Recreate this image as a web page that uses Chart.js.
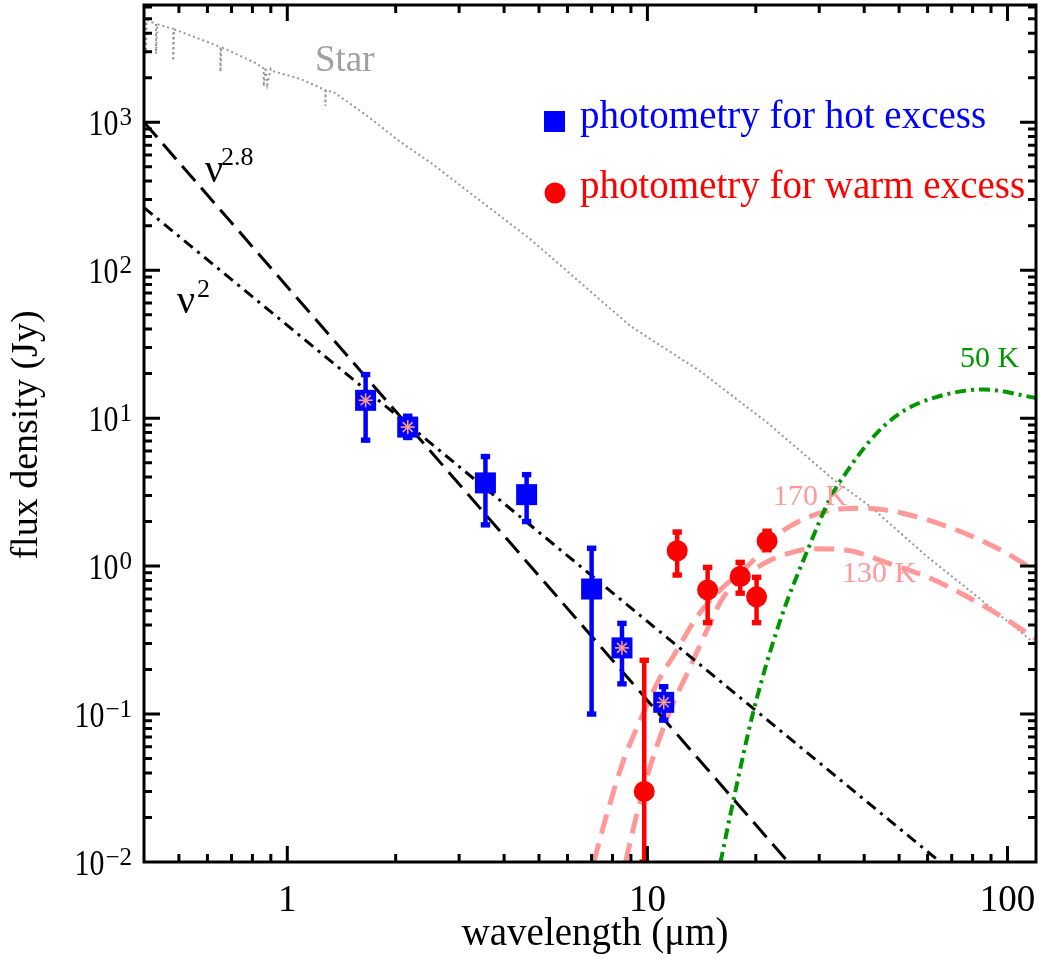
<!DOCTYPE html>
<html>
<head>
<meta charset="utf-8">
<script src="https://cdn.jsdelivr.net/npm/chart.js@4.4.1/dist/chart.umd.min.js"></script>
<style>
html,body{margin:0;padding:0;background:#fff;}
#wrap{width:1040px;height:962px;}
</style>
</head>
<body>
<div id="wrap"><canvas id="c" width="1040" height="962"></canvas></div>
<script>
// ---- data ----
const hotWl  = [1.65, 2.16, 3.55, 4.62, 7.0, 8.5, 11.1];
const hotF   = [13.2, 8.7, 3.65, 3.04, 0.70, 0.28, 0.12];
const hotHi  = [19.7, 10.3, 5.5, 4.15, 1.32, 0.41, 0.153];
const hotLo  = [7.1, 7.4, 1.9, 2.0, 0.10, 0.16, 0.091];
const hotAst = [true, true, false, false, false, true, true];

const warmWl = [9.8, 12.1, 14.7, 18.1, 20.1, 21.5];
const warmF  = [0.030, 1.27, 0.69, 0.85, 0.62, 1.48];
const warmHi = [0.231, 1.70, 0.98, 1.06, 0.84, 1.72];
const warmLo = [0.01, 0.87, 0.415, 0.656, 0.415, 1.29];

const starWl = [0.400,0.405,0.405,0.407,0.432,0.432,0.435,0.482,0.482,0.485,0.652,0.652,0.656,0.82,0.86,0.86,0.87,0.88,0.90,0.92,1.087,1.275,1.275,1.28,1.342,1.668,2.06,2.496,4.73,8.97,14.0,21.5,32.9,41.6,59.8,82.4,120.4];
const starF  = [5000,4920,2900,4900,4625,2900,4600,4275,2600,4250,3230,2190,3220,2500,2300,1750,2350,1800,2300,2200,1964,1650,1290,1640,1603,1103,736,535,162,41.9,20.8,9.34,3.84,2.53,1.16,0.622,0.293];

const nu28Wl = [0.4, 24.6];
const nu28F  = [1000, 0.01];
const nu2Wl  = [0.4, 65];
const nu2F   = [265, 0.01];

const bb170Wl = [7.09,7.73,8.59,9.56,10.64,12.09,13.74,15.95,18.92,23.41,28.37,34.37,39.9,50.45,69.45,95.6,120.9];
const bb170F  = [0.0099,0.0213,0.0488,0.0911,0.161,0.271,0.456,0.691,0.994,1.681,2.167,2.432,2.462,2.296,1.817,1.289,0.915];
const bb130Wl = [8.69,9.36,10.31,11.58,13.16,14.65,16.29,18.13,21.5,24.96,28.96,35.87,46.33,62.42,99.8,120.9];
const bb130F  = [0.0099,0.0213,0.0488,0.1065,0.209,0.3705,0.622,0.808,1.069,1.23,1.31,1.279,1.053,0.808,0.433,0.317];
const bb50Wl  = [15.95,17.36,19.74,23.41,27.77,32.24,35.87,42.53,50.45,62.42,85.96,119.6];
const bb50F   = [0.0099,0.02657,0.1065,0.433,1.26,2.90,4.38,7.54,10.86,13.72,15.62,13.72];

const xTickVals   = [1, 10, 100];
const xTickLabels = ['1', '10', '100'];
const yTickExps   = [-2, -1, 0, 1, 2, 3];
const yTickLabels = ['\u22122', '\u22121', '0', '1', '2', '3'];

const BLUE = 'rgb(0,0,255)', RED = 'rgb(255,0,0)', PINK = 'rgb(255,153,153)',
      GREEN = 'rgb(0,150,0)', GRAY = 'rgb(150,150,150)';
const FONT = '"Liberation Serif", "Times New Roman", serif';

function pts(xs, ys){ return xs.map((x,i)=>({x:x, y:ys[i]})); }

function txt(ctx, s, x, y, size, color, align, hs){
  hs = hs || 1;
  ctx.save();
  ctx.font = size + 'px ' + FONT;
  ctx.fillStyle = color;
  ctx.textBaseline = 'alphabetic';
  ctx.textAlign = 'left';
  const w = ctx.measureText(s).width * hs;
  const x0 = align === 'right' ? x - w : (align === 'center' ? x - w/2 : x);
  ctx.translate(x0, y);
  ctx.scale(hs, 1);
  ctx.fillText(s, 0, 0);
  ctx.restore();
  return w;
}

function drawErr(chart, wl, lo, hi, color){
  const ctx = chart.ctx, xs = chart.scales.x, ys = chart.scales.y, a = chart.chartArea;
  ctx.save();
  ctx.beginPath();
  ctx.rect(a.left, a.top, a.right - a.left, a.bottom - a.top);
  ctx.clip();
  ctx.strokeStyle = color; ctx.fillStyle = color; ctx.lineWidth = 4.5;
  wl.forEach((w,i)=>{
    const px = xs.getPixelForValue(w);
    const y1 = ys.getPixelForValue(hi[i]);
    const y2 = ys.getPixelForValue(lo[i]);
    ctx.beginPath(); ctx.moveTo(px, y1); ctx.lineTo(px, y2); ctx.stroke();
    ctx.fillRect(px - 4.7, y1 - 2.7, 9.4, 5.4);
    ctx.fillRect(px - 4.7, y2 - 2.7, 9.4, 5.4);
  });
  ctx.restore();
}

const idlPlugin = {
  id: 'idl',
  beforeDatasetDraw(chart, args){
    if (args.index === 0) drawErr(chart, hotWl, hotLo, hotHi, BLUE);
    if (args.index === 1) drawErr(chart, warmWl, warmLo, warmHi, RED);
  },
  afterDatasetsDraw(chart){
    const ctx = chart.ctx, xs = chart.scales.x, ys = chart.scales.y, a = chart.chartArea;
    // asterisks on the hot points
    ctx.save();
    ctx.strokeStyle = 'rgb(250,160,140)'; ctx.lineWidth = 1.6;
    hotWl.forEach((w,i)=>{
      if (!hotAst[i]) return;
      const px = xs.getPixelForValue(w), py = ys.getPixelForValue(hotF[i]);
      const r = 7;
      for (let k=0;k<4;k++){
        const ang = k*Math.PI/4;
        ctx.beginPath();
        ctx.moveTo(px - r*Math.cos(ang), py - r*Math.sin(ang));
        ctx.lineTo(px + r*Math.cos(ang), py + r*Math.sin(ang));
        ctx.stroke();
      }
    });
    ctx.restore();

    // frame
    ctx.save();
    ctx.strokeStyle = '#000'; ctx.lineWidth = 3;
    ctx.strokeRect(a.left, a.top, a.right - a.left, a.bottom - a.top);
    // x ticks
    const xmin = xs.min, xmax = xs.max;
    for (let d = -1; d <= 2; d++){
      for (let m = 1; m <= 9; m++){
        const v = m * Math.pow(10, d);
        if (v <= xmin * 1.001 || v >= xmax) continue;
        const px = xs.getPixelForValue(v);
        const len = (m === 1) ? 16 : 8;
        ctx.beginPath();
        ctx.moveTo(px, a.bottom); ctx.lineTo(px, a.bottom - len);
        ctx.moveTo(px, a.top); ctx.lineTo(px, a.top + len);
        ctx.stroke();
      }
    }
    // y ticks
    const ymin = ys.min, ymax = ys.max;
    for (let d = -2; d <= 3; d++){
      for (let m = 1; m <= 9; m++){
        const v = m * Math.pow(10, d);
        if (v <= ymin * 1.001 || v >= ymax) continue;
        const py = ys.getPixelForValue(v);
        const len = (m === 1) ? 16 : 8;
        ctx.beginPath();
        ctx.moveTo(a.left, py); ctx.lineTo(a.left + len, py);
        ctx.moveTo(a.right, py); ctx.lineTo(a.right - len, py);
        ctx.stroke();
      }
    }
    ctx.restore();

    // x tick labels
    xTickVals.forEach((v,i)=>{
      txt(ctx, xTickLabels[i], xs.getPixelForValue(v), 911, 37, '#000', 'center');
    });
    // y tick labels 10^n
    yTickExps.forEach((e,i)=>{
      const py = ys.getPixelForValue(Math.pow(10, e));
      const we = txt(ctx, yTickLabels[i], 132, py + 3, 25, '#000', 'right');
      txt(ctx, '10', 132 - we - 1, py + 12.5, 36, '#000', 'right', 0.83);
    });

    // axis titles
    txt(ctx, 'wavelength (\u03bcm)', 595, 945, 39, '#000', 'center');
    ctx.save();
    ctx.translate(37, 435);
    ctx.rotate(-Math.PI/2);
    txt(ctx, 'flux density (Jy)', 0, 0, 38, '#000', 'center');
    ctx.restore();

    // curve labels
    txt(ctx, 'Star', 315, 71, 37, 'rgb(160,160,160)', 'left');
    txt(ctx, '\u03bd', 205, 182, 40, '#000', 'left');
    txt(ctx, '2.8', 221, 165, 26, '#000', 'left');
    txt(ctx, '\u03bd', 177, 313, 40, '#000', 'left');
    txt(ctx, '2', 197, 297, 26, '#000', 'left');
    txt(ctx, '50 K', 960, 367, 30, GREEN, 'left');
    txt(ctx, '170 K', 773, 505, 30, PINK, 'left');
    txt(ctx, '130 K', 842, 582, 30, PINK, 'left');

    // legend
    ctx.save();
    ctx.fillStyle = BLUE;
    ctx.fillRect(544, 111, 21, 21);
    ctx.fillStyle = RED;
    ctx.beginPath(); ctx.arc(555, 193, 10.5, 0, Math.PI*2); ctx.fill();
    ctx.restore();
    txt(ctx, 'photometry for hot excess', 580, 128, 39, BLUE, 'left');
    txt(ctx, 'photometry for warm excess', 580, 198, 39, RED, 'left');
  }
};

const lineDs = (data, color, width, dash, mono) => ({
  type: 'line', data: data, borderColor: color, borderWidth: width, borderDash: dash,
  pointRadius: 0, fill: false, showLine: true,
  cubicInterpolationMode: mono ? 'monotone' : 'default', tension: 0
});

new Chart(document.getElementById('c'), {
  type: 'scatter',
  data: {
    datasets: [
      { label: 'photometry for hot excess', data: pts(hotWl, hotF), pointStyle: 'rect',
        pointRadius: 14.85, pointBackgroundColor: BLUE, pointBorderWidth: 0, showLine: false },
      { label: 'photometry for warm excess', data: pts(warmWl, warmF), pointStyle: 'circle',
        pointRadius: 10.5, pointBackgroundColor: RED, pointBorderWidth: 0, showLine: false },
      lineDs(pts(nu28Wl, nu28F), '#000', 3, [20, 9], false),
      lineDs(pts(nu2Wl, nu2F), '#000', 3, [11, 6, 3, 6], false),
      lineDs(pts(bb50Wl, bb50F), GREEN, 4, [11, 5, 3, 5], true),
      lineDs(pts(bb170Wl, bb170F), PINK, 5, [20, 10], true),
      lineDs(pts(bb130Wl, bb130F), PINK, 5, [20, 10], true),
      lineDs(pts(starWl, starF), GRAY, 2, [2, 3], false)
    ]
  },
  options: {
    responsive: false,
    animation: false,
    devicePixelRatio: 1,
    layout: { autoPadding: false, padding: { left: 144, right: 4, top: 5, bottom: 100 } },
    plugins: { legend: { display: false }, tooltip: { enabled: false } },
    events: [],
    scales: {
      x: { type: 'logarithmic', min: 0.4, max: 120, bounds: 'data', display: false },
      y: { type: 'logarithmic', min: 0.01, max: 6200, bounds: 'data', display: false }
    }
  },
  plugins: [idlPlugin]
});
</script>
</body>
</html>
